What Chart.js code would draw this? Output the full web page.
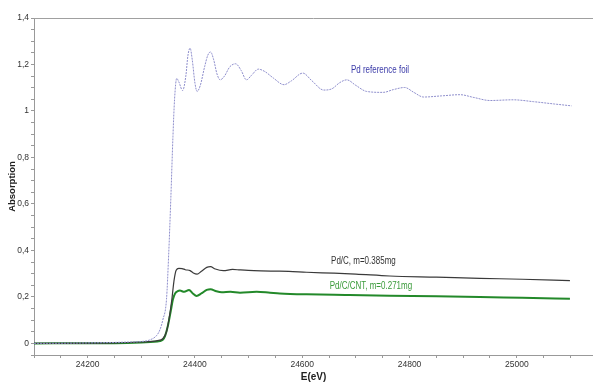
<!DOCTYPE html>
<html><head><meta charset="utf-8">
<script src="https://cdn.jsdelivr.net/npm/chart.js@4/dist/chart.umd.min.js"></script>
<style>html,body{margin:0;padding:0;background:#fff}canvas{display:block}</style>
</head><body>
<canvas id="c" width="593" height="386"></canvas>
<script>
// ---- data ----
const foilE = [24100,24200,24250,24280,24300,24316,24329,24335,24340,24347,24351,24355,24359,24362,24366,24370,24377,24383,24387,24391,24395,24400,24404,24410,24418,24424,24429,24435,24441,24447,24455,24465,24476,24486,24496,24506,24518,24530,24546,24566,24580,24601,24618,24640,24655,24670,24683,24700,24720,24751,24770,24791,24808,24826,24860,24894,24920,24950,24993,25031,25070,25102];
const foilA = [0,0.002,0.004,0.006,0.008,0.015,0.035,0.06,0.1,0.19,0.38,0.62,0.89,1.05,1.14,1.125,1.088,1.15,1.24,1.27,1.22,1.12,1.084,1.11,1.19,1.24,1.254,1.22,1.16,1.134,1.15,1.19,1.203,1.175,1.134,1.155,1.18,1.17,1.142,1.113,1.13,1.163,1.13,1.09,1.095,1.122,1.134,1.11,1.084,1.08,1.092,1.101,1.08,1.06,1.065,1.07,1.058,1.045,1.048,1.04,1.03,1.022];

const pdcE = [24100,24250,24300,24330,24340,24347,24352,24357,24361,24365,24370,24376,24382,24391,24397,24404,24412,24422,24429,24438,24453,24470,24484,24510,24545,24575,24608,24658,24700,24763,24850,24931,25010,25099];
const pdcA = [0,0.002,0.006,0.012,0.02,0.05,0.11,0.19,0.27,0.315,0.323,0.322,0.317,0.313,0.303,0.298,0.31,0.327,0.33,0.32,0.313,0.318,0.316,0.313,0.311,0.31,0.306,0.302,0.298,0.29,0.285,0.28,0.276,0.27];

const cntE = [24100,24250,24300,24335,24340,24344,24350,24355,24359,24363,24368,24372,24380,24389,24396,24403,24412,24422,24429,24440,24450,24466,24484,24515,24540,24558,24608,24680,24763,24850,24931,25010,25099];
const cntA = [0,0.001,0.004,0.01,0.015,0.03,0.08,0.14,0.19,0.215,0.225,0.227,0.222,0.23,0.215,0.204,0.215,0.23,0.233,0.224,0.22,0.222,0.218,0.222,0.218,0.215,0.211,0.208,0.205,0.203,0.2,0.196,0.192];

const seriesNames = ['Pd reference foil', 'Pd/C, m=0.385mg', 'Pd/C/CNT, m=0.271mg'];

const xTickValues = [24200, 24400, 24600, 24800, 25000];
const xTickLabels = ['24200', '24400', '24600', '24800', '25000'];
const yTickValues = [0, 0.2, 0.4, 0.6, 0.8, 1, 1.2, 1.4];
const yTickLabels = ['0', '0,2', '0,4', '0,6', '0,8', '1', '1,2', '1,4'];

// label anchors in data units (energy, absorption)
const labelE = [24745, 24714, 24728];
const labelA = [1.174, 0.355, 0.244];

// ---- chart ----
const colors = ['#8e8ecc', '#3a3a3a', '#23892a'];
const textColors = ['#3a3aa8', '#333333', '#3a9a3a'];
const sans = "'Liberation Sans', Arial, sans-serif";

function pts(E, A) { return E.map((e, i) => ({x: e, y: A[i]})); }
function lookup(vals, labels, v) {
  for (let i = 0; i < vals.length; i++) if (Math.abs(vals[i] - v) < 1e-6) return labels[i];
  return '';
}

const labelPlugin = {
  id: 'labels',
  afterDatasetsDraw(chart) {
    const {ctx, scales: {x, y}, chartArea} = chart;
    ctx.save();
    // top frame line
    ctx.strokeStyle = '#a0a0a0';
    ctx.lineWidth = 1;
    ctx.beginPath();
    ctx.moveTo(chartArea.left, chartArea.top + 0.5);
    ctx.lineTo(chartArea.right, chartArea.top + 0.5);
    ctx.stroke();
    ctx.font = '10px ' + sans;
    ctx.textAlign = 'center';
    ctx.textBaseline = 'middle';
    const sx = 0.8;
    seriesNames.forEach((t, i) => {
      ctx.save();
      ctx.translate(x.getPixelForValue(labelE[i]), y.getPixelForValue(labelA[i]));
      ctx.scale(sx, 1);
      ctx.fillStyle = textColors[i];
      ctx.fillText(t, 0, 0);
      ctx.restore();
    });
    ctx.restore();
  }
};

new Chart(document.getElementById('c'), {
  type: 'line',
  data: {
    datasets: [
      {label: seriesNames[0], data: pts(foilE, foilA), borderColor: colors[0], borderWidth: 1, borderDash: [2, 1], pointRadius: 0, cubicInterpolationMode: 'monotone', fill: false},
      {label: seriesNames[1], data: pts(pdcE, pdcA), borderColor: colors[1], borderWidth: 1.2, pointRadius: 0, cubicInterpolationMode: 'monotone', fill: false},
      {label: seriesNames[2], data: pts(cntE, cntA), borderColor: colors[2], borderWidth: 2, pointRadius: 0, cubicInterpolationMode: 'monotone', fill: false}
    ]
  },
  options: {
    responsive: false,
    animation: false,
    devicePixelRatio: 1,
    layout: {padding: {top: 18, right: 0, left: 0, bottom: 0}},
    plugins: {legend: {display: false}, tooltip: {enabled: false}},
    scales: {
      x: {
        type: 'linear', min: 24100, max: 25142,
        afterFit(s) { s.height = 31; },
        grid: {drawOnChartArea: false, drawTicks: true, tickLength: 3, color: '#999'},
        border: {display: true, color: '#999'},
        ticks: {stepSize: 50, includeBounds: false, autoSkip: false, maxRotation: 0, padding: 2,
          color: '#333', font: {size: 8.5, family: sans},
          callback: v => lookup(xTickValues, xTickLabels, v)},
        title: {display: true, text: 'E(eV)', color: '#222', padding: {top: 0, bottom: 3},
          font: {size: 10, weight: 'bold', family: sans}}
      },
      y: {
        min: -0.05, max: 1.4,
        afterFit(s) { s.width = 34; },
        grid: {drawOnChartArea: false, drawTicks: true, tickLength: 3, color: '#999'},
        border: {display: true, color: '#999'},
        ticks: {stepSize: 0.05, autoSkip: false, padding: 2, color: '#333',
          font: {size: 8.5, family: sans},
          callback: v => lookup(yTickValues, yTickLabels, v)},
        title: {display: true, text: 'Absorption', color: '#222', padding: {top: 7, bottom: 0},
          font: {size: 9.5, weight: 'bold', family: sans}}
      }
    }
  },
  plugins: [labelPlugin]
});
</script>
</body></html>
